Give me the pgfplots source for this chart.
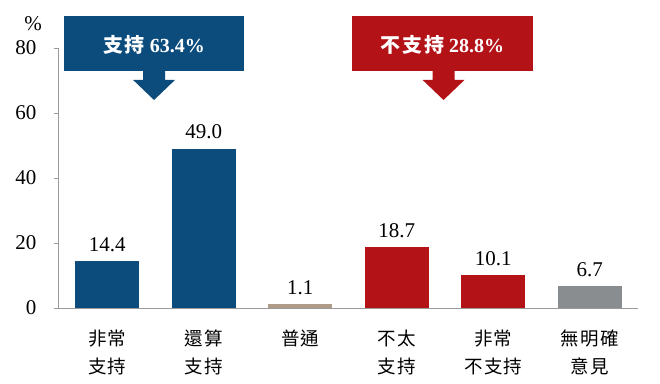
\documentclass[border=0pt]{standalone}
\usepackage{fontspec}
\setmainfont{Liberation Serif}
\newfontfamily\cjk[LetterSpace=8]{Noto Sans CJK TC}
\usepackage{pgfplots}
\pgfplotsset{compat=1.18}
\definecolor{cblue}{HTML}{0B4C7D}
\definecolor{cred}{HTML}{B31217}
\definecolor{cgray}{HTML}{8A8D90}
\definecolor{cbrown}{HTML}{B09A88}
\definecolor{caxis}{HTML}{9A9A9A}
\begin{document}
\begin{tikzpicture}[x=1pt,y=1pt]
\useasboundingbox (0,0) rectangle (660,383);
\begin{axis}[
  at={(59pt,75pt)}, anchor=south west,
  scale only axis, width=579pt, height=260pt,
  xmin=-0.5, xmax=5.5, ymin=0, ymax=80,
  axis lines=left, axis line style={-, caxis, line width=1pt},
  ytick={0,20,40,60,80},
  xtick={0,1,2,3,4,5},
  xticklabels={{非常\\支持},{還算\\支持},{普通},{不太\\支持},{非常\\不支持},{無明確\\意見}},
  xticklabel style={align=center, font=\cjk\fontsize{18.5}{28}\selectfont, anchor=north, yshift=-13pt},
  x tick style={draw=none},
  y tick style={caxis, line width=1pt},
  tick align=outside, major tick length=5pt,
  yticklabel style={font=\fontsize{21}{22}\selectfont, xshift=-14pt},
  /pgf/number format/assume math mode=true,
  ybar, bar width=64pt, bar shift=0pt,
  nodes near coords,
  nodes near coords style={font=\fontsize{21}{22}\selectfont, /pgf/number format/fixed, /pgf/number format/fixed zerofill, /pgf/number format/precision=1, yshift=6pt},
  clip=false,
]
\addplot[fill=cblue, draw=none] coordinates {(0,14.4)};
\addplot[fill=cblue, draw=none] coordinates {(1,49.0)};
\addplot[fill=cbrown, draw=none] coordinates {(2,1.1)};
\addplot[fill=cred, draw=none] coordinates {(3,18.7)};
\addplot[fill=cred, draw=none] coordinates {(4,10.1)};
\addplot[fill=cgray, draw=none] coordinates {(5,6.7)};
% callouts
\fill[cblue] (axis cs:-0.448,72.9) rectangle (axis cs:1.417,89.8);
\fill[cblue] (axis cs:0.371,72.9) -- (axis cs:0.371,70.2) -- (axis cs:0.267,70.2) -- (axis cs:0.485,64) -- (axis cs:0.703,70.2) -- (axis cs:0.599,70.2) -- (axis cs:0.599,72.9) -- cycle;
\node[text=white, font=\bfseries\fontsize{20}{22}\selectfont] at (axis cs:0.485,81.0) {{\cjk 支持} 63.4\%};
\fill[cred] (axis cs:2.54,72.9) rectangle (axis cs:4.41,89.8);
\fill[cred] (axis cs:3.371,72.9) -- (axis cs:3.371,70.2) -- (axis cs:3.267,70.2) -- (axis cs:3.485,64) -- (axis cs:3.703,70.2) -- (axis cs:3.599,70.2) -- (axis cs:3.599,72.9) -- cycle;
\node[text=white, font=\bfseries\fontsize{20}{22}\selectfont] at (axis cs:3.475,81.0) {{\cjk 不支持} 28.8\%};
\end{axis}
\node[font=\fontsize{21}{22}\selectfont] at (33,359) {\%};
\end{tikzpicture}
\end{document}
